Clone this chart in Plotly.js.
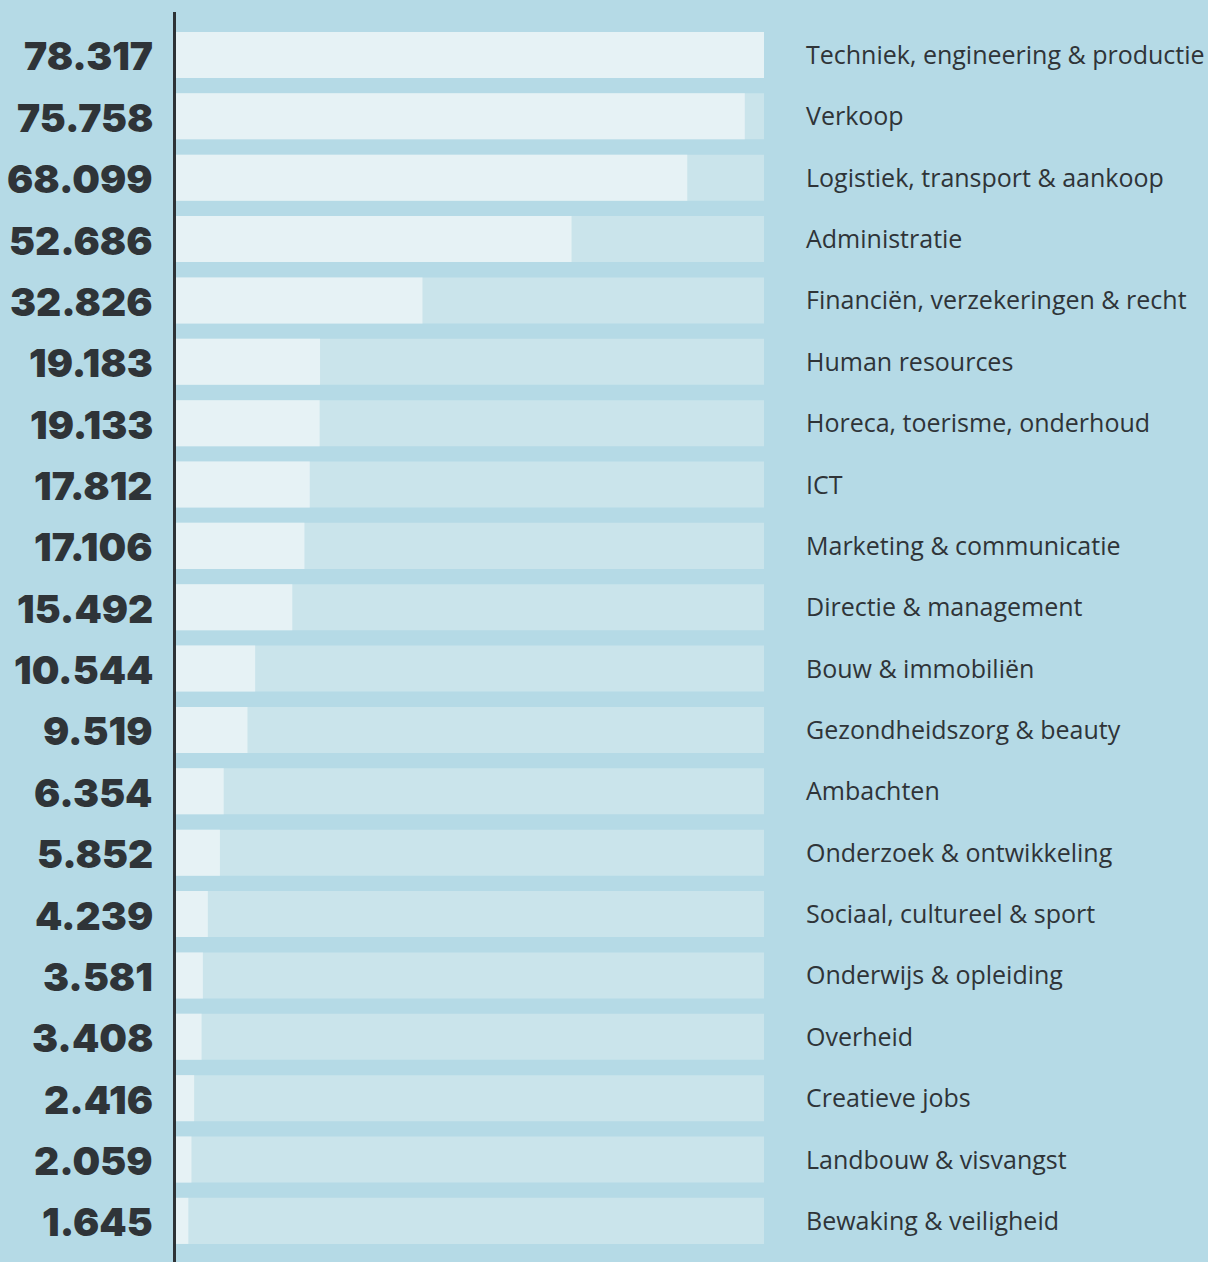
<!DOCTYPE html>
<html>
<head>
<meta charset="utf-8">
<script src="https://cdn.plot.ly/plotly-3.0.1.min.js"></script>
<style>html,body{margin:0;padding:0;background:#b5dae6;}#chart{width:1208px;height:1262px;}</style>
</head>
<body>
<div id="chart"></div>
<script>
const categories = [
  "Techniek, engineering & productie",
  "Verkoop",
  "Logistiek, transport & aankoop",
  "Administratie",
  "Financiën, verzekeringen & recht",
  "Human resources",
  "Horeca, toerisme, onderhoud",
  "ICT",
  "Marketing & communicatie",
  "Directie & management",
  "Bouw & immobiliën",
  "Gezondheidszorg & beauty",
  "Ambachten",
  "Onderzoek & ontwikkeling",
  "Sociaal, cultureel & sport",
  "Onderwijs & opleiding",
  "Overheid",
  "Creatieve jobs",
  "Landbouw & visvangst",
  "Bewaking & veiligheid"
];
const values = [78317, 75758, 68099, 52686, 32826, 19183, 19133, 17812, 17106, 15492,
  10544, 9519, 6354, 5852, 4239, 3581, 3408, 2416, 2059, 1645];
const valueLabels = ["78.317","75.758","68.099","52.686","32.826","19.183","19.133","17.812","17.106","15.492",
  "10.544","9.519","6.354","5.852","4.239","3.581","3.408","2.416","2.059","1.645"];

const maxVal = Math.max(...values);
const track = values.map(() => maxVal);

const textColor = "#2f3438";

const traces = [
  {type:"bar", orientation:"h", y:categories, x:track, marker:{color:"#cae4eb"}, hoverinfo:"skip", width:0.75},
  {type:"bar", orientation:"h", y:categories, x:values, marker:{color:"#e6f2f5"}, width:0.75}
];

const annotations = [];
categories.forEach((c,i) => {
  annotations.push({xref:"paper", yref:"y", x:0, y:c, text:valueLabels[i], showarrow:false,
    xanchor:"right", xshift:-21, yshift:-1,
    font:{family:"Inter, 'DejaVu Sans', sans-serif", size:39, weight:900, color:textColor}});
  annotations.push({xref:"paper", yref:"y", x:1, y:c, text:c, showarrow:false,
    xanchor:"left", xshift:40, yshift:1,
    font:{family:"'Open Sans', sans-serif", size:25, color:textColor}});
});

const layout = {
  width:1208, height:1262,
  margin:{l:176, r:444, t:12, b:0, pad:0},
  paper_bgcolor:"#b5dae6", plot_bgcolor:"#b5dae6",
  barmode:"overlay",
  showlegend:false,
  xaxis:{range:[0, maxVal], showgrid:false, zeroline:false, showticklabels:false, ticks:"", fixedrange:true},
  yaxis:{type:"category", range:[19.67, -0.70], showgrid:false, zeroline:false, showticklabels:false, ticks:"",
    showline:true, linecolor:"#2d3236", linewidth:3},
  annotations:annotations
};

Plotly.newPlot("chart", traces, layout, {displayModeBar:false, staticPlot:true});
</script>
</body>
</html>
